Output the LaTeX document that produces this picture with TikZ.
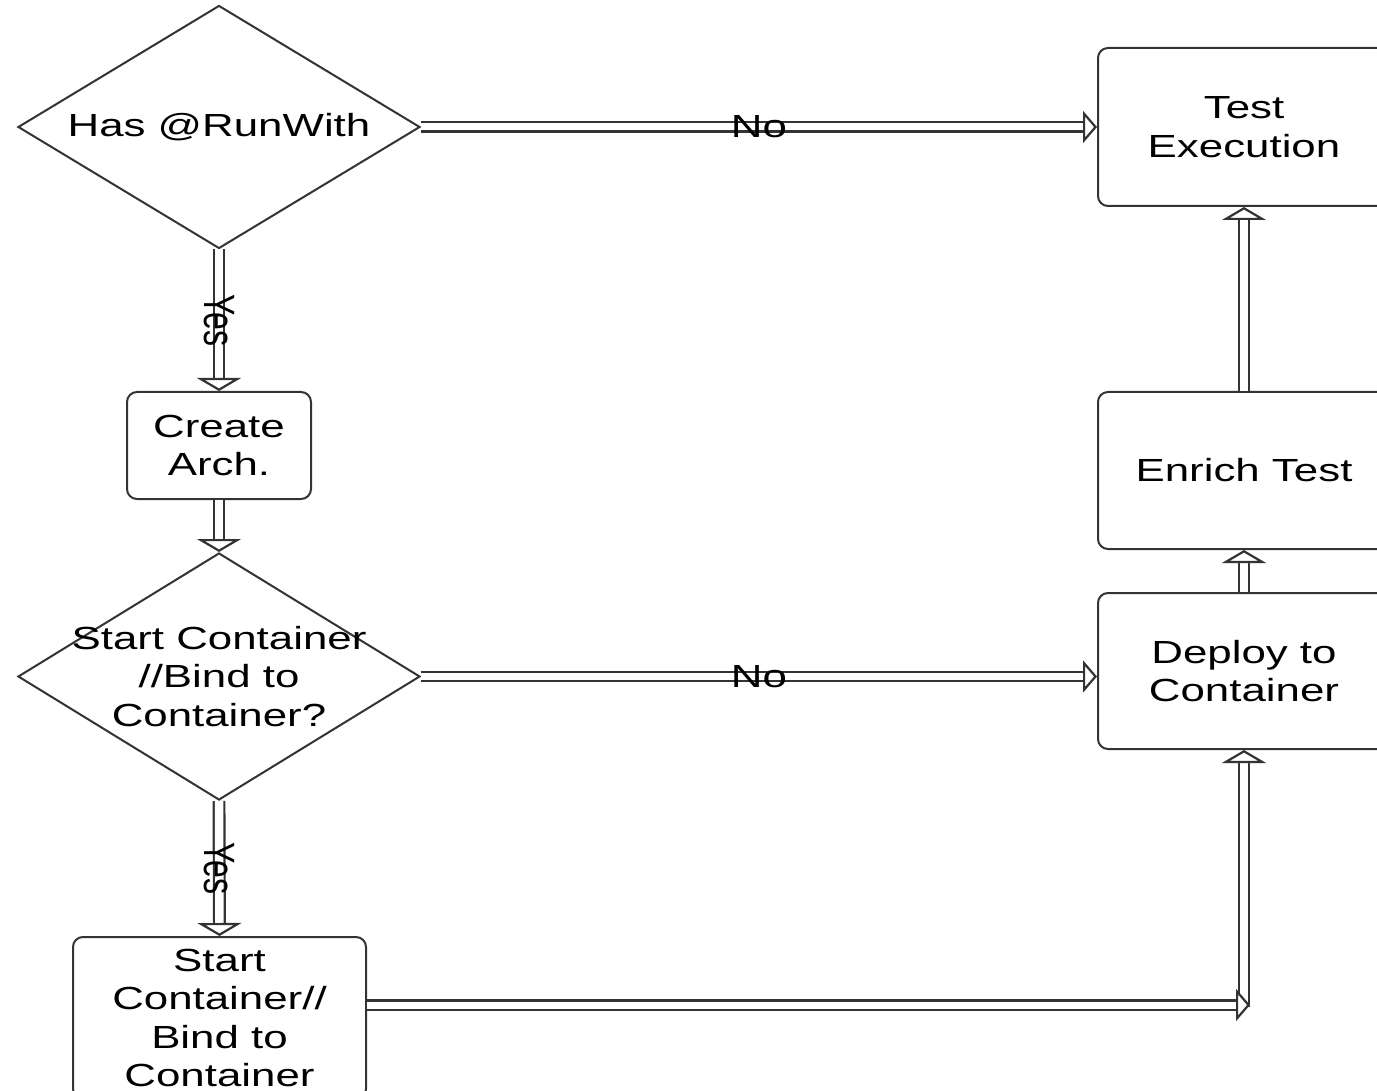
\documentclass[tikz,border=0pt]{standalone}
\usepackage{fontspec}
\setmainfont{Liberation Sans}[FakeStretch=1.37]
\newfontfamily\plainfont{Liberation Sans}
\usetikzlibrary{shapes.geometric,arrows.meta,calc}
\definecolor{edge}{HTML}{333333}
\newcommand{\vlabel}[1]{\scalebox{1.37}[1]{\rotatebox{-90}{\plainfont #1}}}
\begin{document}
\begin{tikzpicture}[x=1pt,y=-1pt,
  txt/.style={font=\fontsize{32}{38.5}\selectfont, align=center, text=black},
  box/.style={draw=edge, line width=2pt, rounded corners=10pt, fill=white, inner sep=0pt},
  dia/.style={draw=edge, line width=2pt, diamond, fill=white, inner sep=0pt},
  dblbase/.style={draw=edge, line width=2.2pt, double=white},
  dblh/.style={dblbase, double distance=7pt,
     -{Triangle[open, length=14pt, width=32pt, line width=2.2pt, fill=white]}},
  dblv/.style={dblbase, double distance=8.5pt,
     -{Triangle[open, length=13pt, width=44pt, line width=2.2pt, fill=white]}},
  lab/.style={font=\fontsize{32}{38}\selectfont, text=black, inner sep=0pt}]
\useasboundingbox (0,0) rectangle (1377,1091);
% nodes
\node[dia, minimum width=402pt, minimum height=243pt,
      label={[txt]center:Has @RunWith}] (d1) at (219,127) {};
\node[box, minimum width=184pt, minimum height=107pt, txt] (ca) at (219,445.5) {Create\\Arch.};
\node[dia, minimum width=402pt, minimum height=247pt,
      label={[txt]center:Start Container\\//Bind to\\Container?}] (d2) at (219,676.5) {};
\node[box, minimum width=293pt, minimum height=162pt, txt] (sc) at (219.5,1018) {Start\\Container//\\Bind to\\Container};
\node[box, minimum width=292pt, minimum height=158pt, txt] (te) at (1244,127) {Test\\Execution};
\node[box, minimum width=292pt, minimum height=157pt, txt] (et) at (1244,470.5) {Enrich Test};
\node[box, minimum width=292pt, minimum height=156pt, txt] (dc) at (1244,671) {Deploy to\\Container};
\coordinate (corner) at (1244,1005);
% connectors
\draw[dblh] (d1.east) -- (d1.east -| te.west) node[lab, midway] (no1) {No};
\draw[dblv] (d1.south) -- (ca.north) node[lab, midway] (yes1) {\vlabel{Yes}};
\draw[dblv] (ca.south) -- (d2.north);
\draw[dblh] (d2.east) -- (d2.east -| dc.west) node[lab, midway] (no2) {No};
\draw[dblv] (d2.south) -- (sc.north) node[lab, midway] (yes2) {\vlabel{Yes}};
\draw[dblv] ($(corner)+(0,2)$) -- (dc.south);
\draw[dblh] (sc.east |- corner) -- ($(corner)+(6,0)$);
\draw[dblv] (dc.north) -- (et.south);
\draw[dblv] (et.north) -- (te.south);
\end{tikzpicture}
\end{document}
